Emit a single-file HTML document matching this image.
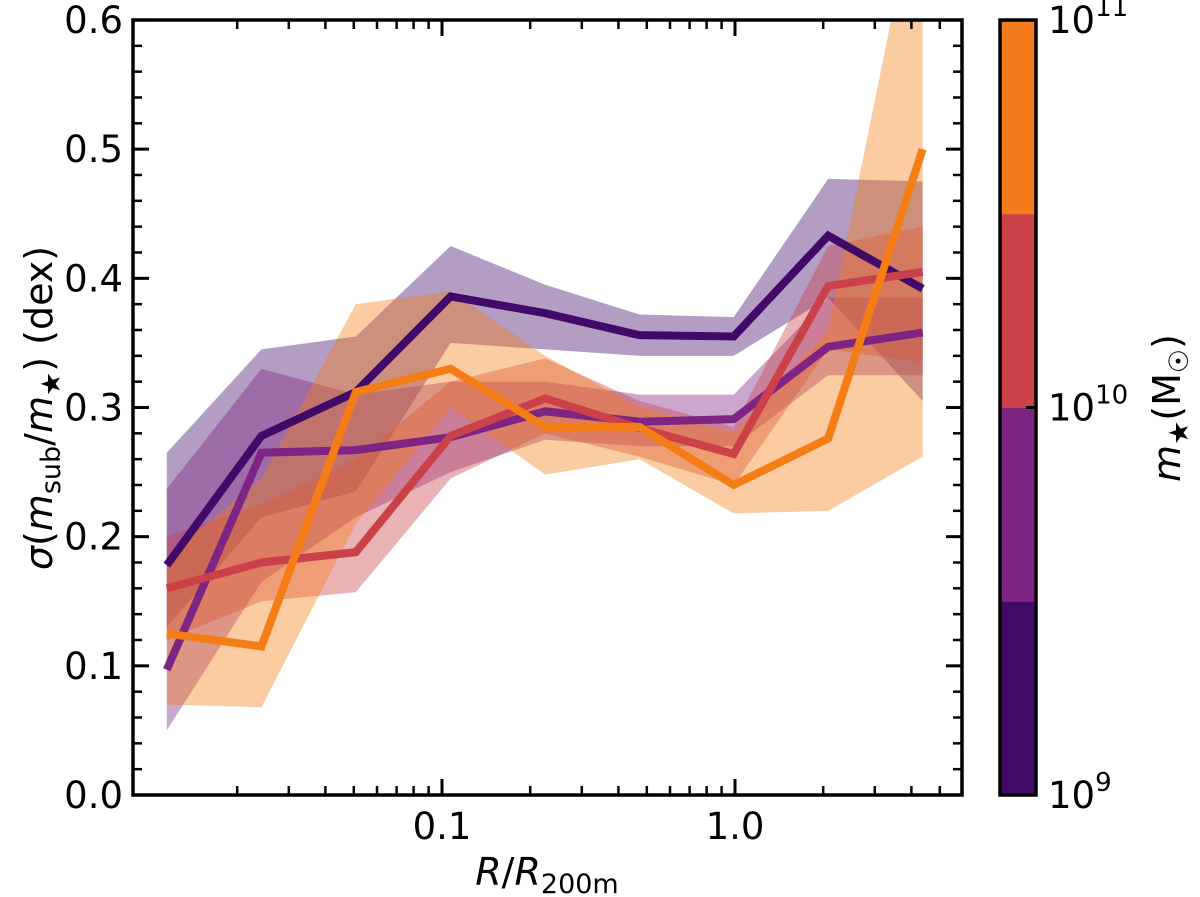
<!DOCTYPE html>
<html><head><meta charset="utf-8"><style>
body{margin:0;background:#fff}
svg{display:block}
text{font-family:"DejaVu Sans","Liberation Sans",sans-serif;fill:#000}
</style></head><body>
<svg id="chart" width="1200" height="897" viewBox="0 0 1200 897" xmlns="http://www.w3.org/2000/svg">
<defs><clipPath id="clip"><rect x="133" y="20" width="829" height="775"/></clipPath></defs>
<g id="bands" clip-path="url(#clip)"></g>
<g id="lines" clip-path="url(#clip)"></g>
<g id="axes"></g>
<text x="547" y="885" font-size="38" text-anchor="middle"><tspan font-style="italic">R</tspan>/<tspan font-style="italic">R</tspan><tspan font-size="27" dy="8">200m</tspan></text>
<text transform="translate(52,408) rotate(-90)" font-size="38" text-anchor="middle"><tspan font-style="italic">σ</tspan>(<tspan font-style="italic">m</tspan><tspan font-size="27" dy="8">sub</tspan><tspan dy="-8">/</tspan><tspan font-style="italic">m</tspan><tspan font-size="27" dy="8">★</tspan><tspan dy="-8">) (dex)</tspan></text>
<g id="cbar"></g>
<text transform="translate(1180,408) rotate(-90)" font-size="38" text-anchor="middle"><tspan font-style="italic">m</tspan><tspan font-size="27" dy="8">★</tspan><tspan dy="-8">(M</tspan><tspan font-size="27" dy="8">☉</tspan><tspan dy="-8">)</tspan></text>
</svg>
<script>
const radii=[0.0115,0.0242,0.0508,0.107,0.225,0.472,0.99,2.08,4.37];
const seriesColors=["#420a68","#7e2482","#cb4149","#f57d15"];
const line0=[0.178,0.278,0.312,0.386,0.373,0.356,0.355,0.433,0.392];
const up0=[0.265,0.345,0.355,0.425,0.395,0.372,0.37,0.477,0.475];
const lo0=[0.13,0.215,0.235,0.35,0.345,0.34,0.34,0.385,0.305];
const line1=[0.097,0.265,0.267,0.277,0.297,0.289,0.291,0.347,0.358];
const up1=[0.237,0.33,0.31,0.32,0.32,0.31,0.31,0.385,0.385];
const lo1=[0.05,0.165,0.215,0.25,0.275,0.27,0.27,0.325,0.325];
const line2=[0.16,0.18,0.188,0.278,0.307,0.284,0.264,0.394,0.405];
const up2=[0.2,0.225,0.26,0.32,0.338,0.305,0.285,0.425,0.44];
const lo2=[0.12,0.15,0.157,0.245,0.28,0.262,0.24,0.345,0.335];
const line3=[0.125,0.115,0.312,0.33,0.285,0.285,0.24,0.276,0.5];
const up3=[0.185,0.245,0.38,0.39,0.34,0.3,0.28,0.36,0.72];
const lo3=[0.07,0.068,0.21,0.3,0.248,0.26,0.218,0.22,0.262];
const yTicks=[0,0.1,0.2,0.3,0.4,0.5,0.6];
const xTickVals=[0.1,1.0];
const xTickLabels=["0.1","1.0"];
const cbarColors=["#420a68","#7e2482","#cb4149","#f37b1d"];
const cbarLabels=["9","10","11"];

const NS="http://www.w3.org/2000/svg";
const X0=133,X1=962,Y0=795,Y1=20;
const sx=v=>735+293*Math.log10(v);
const sy=v=>795-v*1291.7;
function mk(tag,attrs,parent){const e=document.createElementNS(NS,tag);for(const k in attrs)e.setAttribute(k,attrs[k]);parent.appendChild(e);return e;}
const bands=document.getElementById('bands'),lines=document.getElementById('lines'),axes=document.getElementById('axes'),cbar=document.getElementById('cbar');
const L=[line0,line1,line2,line3],U=[up0,up1,up2,up3],Lo=[lo0,lo1,lo2,lo3];
for(let s=0;s<4;s++){
  let p=radii.map((r,i)=>sx(r)+','+sy(U[s][i]));
  p=p.concat(radii.map((r,i)=>sx(r)+','+sy(Lo[s][i])).reverse());
  const b=mk('polygon',{points:p.join(' '),fill:seriesColors[s],'fill-opacity':0.4},bands);
  
  
}
for(let s=0;s<4;s++){
  const l=mk('polyline',{points:radii.map((r,i)=>sx(r)+','+sy(L[s][i])).join(' '),fill:'none',stroke:seriesColors[s],'stroke-width':8,'stroke-linejoin':'miter'},lines);
  
  
}
mk('rect',{x:X0,y:Y1,width:X1-X0,height:Y0-Y1,fill:'none',stroke:'#000','stroke-width':3.5},axes);
yTicks.forEach(v=>{const y=sy(v);
  mk('line',{x1:X0,x2:X0+16,y1:y,y2:y,stroke:'#000','stroke-width':3},axes);
  mk('line',{x1:X1,x2:X1-16,y1:y,y2:y,stroke:'#000','stroke-width':3},axes);
  const t=mk('text',{x:X0-10,y:y+13,'font-size':37,'text-anchor':'end'},axes);t.textContent=v.toFixed(1);
  
  
});
for(let v=0.02;v<0.6;v+=0.02){const y=sy(v);
  mk('line',{x1:X0,x2:X0+9,y1:y,y2:y,stroke:'#000','stroke-width':2.5},axes);
  mk('line',{x1:X1,x2:X1-9,y1:y,y2:y,stroke:'#000','stroke-width':2.5},axes);}
xTickVals.forEach((v,i)=>{const x=sx(v);
  mk('line',{x1:x,x2:x,y1:Y0,y2:Y0-16,stroke:'#000','stroke-width':3},axes);
  mk('line',{x1:x,x2:x,y1:Y1,y2:Y1+16,stroke:'#000','stroke-width':3},axes);
  const t=mk('text',{x:x,y:Y0+44,'font-size':37,'text-anchor':'middle'},axes);t.textContent=xTickLabels[i];
  
  
});
[0.01,0.1,1].forEach(d=>{for(let k=2;k<=9;k++){const x=sx(d*k);if(x>X0&&x<X1){
  mk('line',{x1:x,x2:x,y1:Y0,y2:Y0-9,stroke:'#000','stroke-width':2.5},axes);
  mk('line',{x1:x,x2:x,y1:Y1,y2:Y1+9,stroke:'#000','stroke-width':2.5},axes);}}});
const CX=1000,CW=36,seg=(795-20)/4;
cbarColors.forEach((c,i)=>{const r=mk('rect',{x:CX,y:795-(i+1)*seg,width:CW,height:seg+0.5,fill:c},cbar);
  
  });
mk('rect',{x:CX,y:20,width:CW,height:775,fill:'none',stroke:'#000','stroke-width':3.5},cbar);
cbarLabels.forEach((e,i)=>{const y=795-i*387.5;
  mk('line',{x1:CX+CW,x2:CX+CW-10,y1:y,y2:y,stroke:'#000','stroke-width':3},cbar);
  const t=mk('text',{x:CX+CW+12,y:y+13,'font-size':37},cbar);
  t.innerHTML='10<tspan font-size="26" dy="-17">'+e+'</tspan>';
  
  });
</script>
</body></html>
